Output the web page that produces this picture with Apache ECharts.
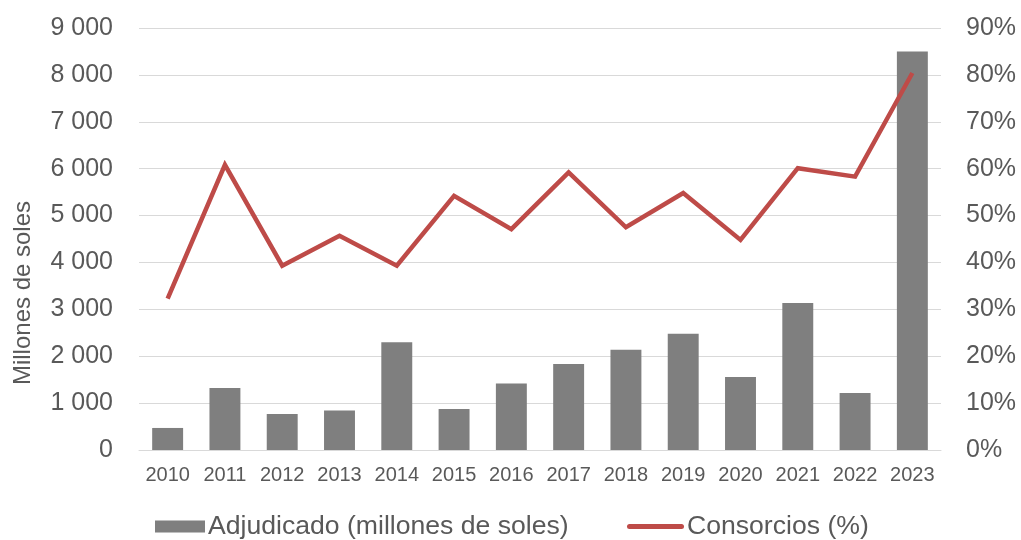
<!DOCTYPE html>
<html>
<head>
<meta charset="utf-8">
<script src="https://cdn.jsdelivr.net/npm/echarts@6/dist/echarts.min.js"></script>
<style>
  html, body { margin: 0; padding: 0; background: #ffffff; }
  #chart { width: 1021px; height: 540px; }
</style>
</head>
<body>
<div id="chart"></div>
<script>
// Years on the category axis
const years = ['2010', '2011', '2012', '2013', '2014', '2015', '2016', '2017', '2018', '2019', '2020', '2021', '2022', '2023'];
// Amount awarded, millions of soles (left axis)
const adjudicado = [470, 1320, 770, 840, 2300, 875, 1420, 1835, 2140, 2480, 1555, 3135, 1215, 8500];
// Share awarded to consortia, percent (right axis)
const consorcios = [32.3, 60.8, 39.3, 45.7, 39.3, 54.2, 47.1, 59.2, 47.5, 54.8, 44.8, 60.1, 58.3, 80.4];

const barName = 'Adjudicado (millones de soles)';
const lineName = 'Consorcios (%)';
const axisTitle = 'Millones de soles';
const font = '"Liberation Sans", Arial, sans-serif';
const textColor = '#595959';
const gridColor = '#d9d9d9';
const lineColor = '#be4b48';

const chart = echarts.init(document.getElementById('chart'), null, { renderer: 'canvas' });

const legendText = { fontFamily: font, fontSize: 26.6, color: textColor, padding: [0, 0, 0, -2] };

chart.setOption({
  animation: false,
  backgroundColor: '#ffffff',
  grid: { left: 139, right: 80, top: 28, bottom: 90, containLabel: false },
  legend: [
    {
      left: 155,
      top: 513,
      padding: 0,
      itemWidth: 50,
      itemHeight: 12,
      textStyle: legendText,
      data: [{ name: barName, icon: 'rect' }]
    },
    {
      left: 627,
      top: 513,
      padding: 0,
      itemWidth: 57,
      itemHeight: 12,
      textStyle: legendText,
      data: [{ name: lineName, icon: 'path://M2.5,0 L54.5,0 A2.5,2.5 0 0 1 54.5,5 L2.5,5 A2.5,2.5 0 0 1 2.5,0 Z' }]
    }
  ],
  graphic: [
    {
      type: 'text',
      x: 23,
      y: 293,
      rotation: Math.PI / 2,
      style: {
        text: axisTitle,
        fontFamily: font,
        fontSize: 24,
        fill: textColor,
        align: 'center',
        verticalAlign: 'middle'
      },
      originX: 0,
      originY: 0
    }
  ],
  xAxis: {
    type: 'category',
    data: years,
    axisLine: { show: true, lineStyle: { color: gridColor, width: 1 } },
    axisTick: { show: false },
    axisLabel: { fontFamily: font, fontSize: 20, color: textColor, margin: 15, interval: 0 }
  },
  yAxis: [
    {
      type: 'value',
      min: 0,
      max: 9000,
      interval: 1000,
      axisLine: { show: false },
      axisTick: { show: false },
      splitLine: { show: true, lineStyle: { color: gridColor, width: 1 } },
      axisLabel: {
        fontFamily: font,
        fontSize: 25,
        color: textColor,
        margin: 26,
        formatter: v => String(v).replace(/\B(?=(\d{3})+(?!\d))/g, ' ')
      }
    },
    {
      type: 'value',
      min: 0,
      max: 90,
      interval: 10,
      position: 'right',
      axisLine: { show: false },
      axisTick: { show: false },
      splitLine: { show: false },
      axisLabel: { fontFamily: font, fontSize: 25, color: textColor, margin: 25, formatter: '{value}%' }
    }
  ],
  series: [
    {
      name: barName,
      type: 'bar',
      yAxisIndex: 0,
      data: adjudicado,
      barWidth: '54%',
      itemStyle: { color: '#7f7f7f' }
    },
    {
      name: lineName,
      type: 'line',
      yAxisIndex: 1,
      data: consorcios,
      symbol: 'none',
      lineStyle: { color: lineColor, width: 4.5, join: 'miter' },
      itemStyle: { color: lineColor },
      z: 3
    }
  ]
});
</script>
</body>
</html>
